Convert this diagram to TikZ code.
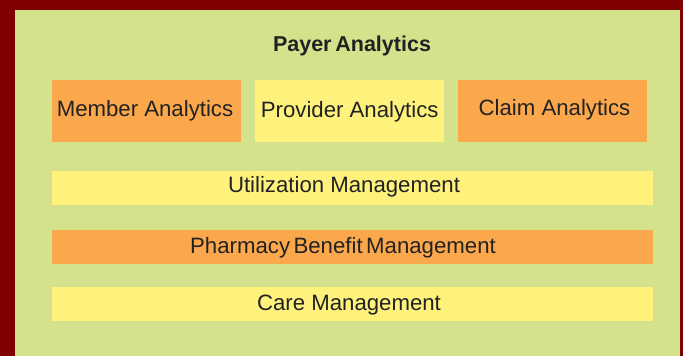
\documentclass[tikz,border=0pt]{standalone}
\usepackage{fontspec}
\setmainfont{Liberation Sans}
\definecolor{frame}{HTML}{7F0000}
\definecolor{bg}{HTML}{D3E28B}
\definecolor{orng}{HTML}{FBA74C}
\definecolor{yell}{HTML}{FEF27D}
\definecolor{ink}{HTML}{222222}
\begin{document}
\begin{tikzpicture}[x=1pt,y=-1pt,
  box/.style={fill=#1,draw=none,inner sep=0pt,outer sep=0pt},
  lbl/.style={anchor=base,inner sep=0pt,text=ink,font=\fontsize{22.2}{24}\selectfont},
  ttl/.style={anchor=base,inner sep=0pt,text=ink,font=\fontsize{21.5}{24}\selectfont\bfseries}]
\useasboundingbox (0,0) rectangle (683,356);
\fill[frame] (0,0) rectangle (683,356);
\fill[bg] (15,10) rectangle (680,356);
\node[ttl] (title) at (352,51.7) {Payer\hspace{-0.1em} Analytics};
\path[box=orng] (52,80) rectangle (241,142) node[midway] (mbox) {};
\path[box=yell] (255,80) rectangle (444,142) node[midway] (pbox) {};
\path[box=orng] (458,80) rectangle (647,142) node[midway] (cbox) {};
\path[box=yell] (52,171) rectangle (653,205) node[midway] (ubox) {};
\path[box=orng] (52,230) rectangle (653,264) node[midway] (phbox) {};
\path[box=yell] (52,287) rectangle (653,321) node[midway] (cmbox) {};
\node[lbl] (mtxt) at (145,116) {Member Analytics};
\node[lbl] (ptxt) at (349.7,117) {Provider Analytics};
\node[lbl] (ctxt) at (554.5,115) {Claim Analytics};
\node[lbl] (utxt) at (344,192.7) {Utilization Management};
\node[lbl] (phtxt) at (343,253.3) {Pharmacy\hspace{-0.12em} Benefit\hspace{-0.12em} Management};
\node[lbl] (cmtxt) at (349,310) {Care Management};
\end{tikzpicture}
\end{document}
